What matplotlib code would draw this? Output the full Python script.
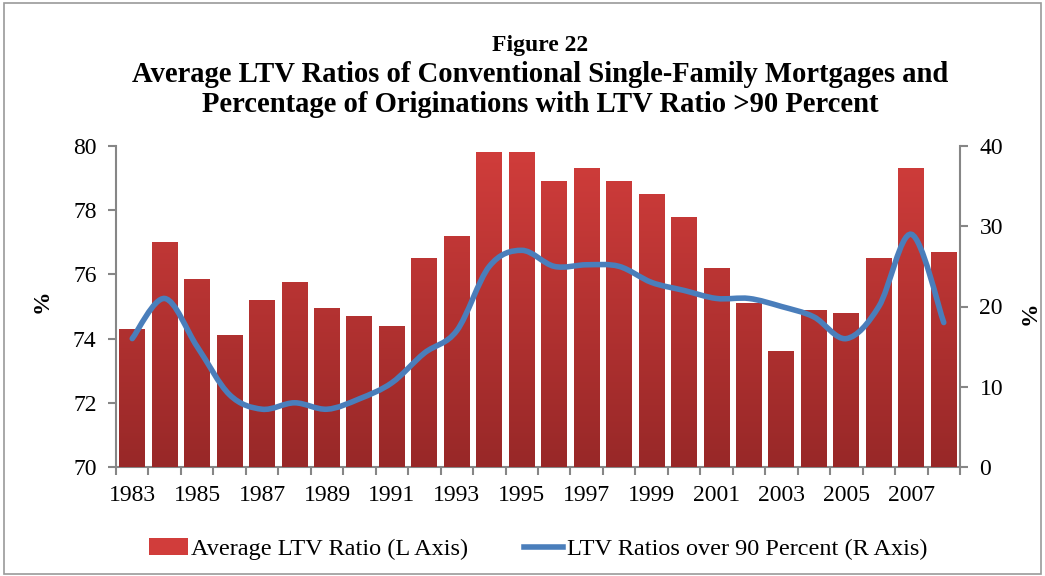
import numpy as np
import matplotlib
matplotlib.use("Agg")
import matplotlib.pyplot as plt
from matplotlib.path import Path
from matplotlib.patches import PathPatch, Rectangle
from matplotlib.colors import LinearSegmentedColormap

plt.rcParams["font.family"] = ["Liberation Serif", "DejaVu Serif"]

# ---- data -------------------------------------------------------------------
years = list(range(1983, 2009))
avg_ltv = [74.3, 77.0, 75.85, 74.1, 75.2, 75.75, 74.95, 74.7, 74.4, 76.5,
           77.2, 79.8, 79.8, 78.9, 79.3, 78.9, 78.5, 77.8, 76.2, 75.1,
           73.6, 74.9, 74.8, 76.5, 79.3, 76.7]
over90 = [16.0, 21.0, 15.0, 9.0, 7.2, 8.0, 7.2, 8.5, 10.5, 14.2,
          17.0, 25.0, 27.0, 25.0, 25.2, 25.0, 23.0, 22.0, 21.0, 21.0,
          20.0, 18.7, 16.0, 20.0, 29.0, 18.0]

BAR_TOP = "#d13d3b"
BAR_BOT = "#982828"
LINE_C = "#4a7ebb"
GRAY = "#868686"

fig = plt.figure(figsize=(10.45, 5.76), dpi=100)
fig.patches.append(Rectangle((0.004, 0.004), 0.992, 0.99, transform=fig.transFigure,
                             fill=False, edgecolor="#9a9a9a", lw=1.2))
ax = fig.add_axes([116 / 1045, 1 - 467 / 576, (960 - 116) / 1045, (467 - 146) / 576])
ax2 = ax.twinx()

x = np.arange(len(years))
bars = ax.bar(x, np.array(avg_ltv) - 70, bottom=70, width=0.8, color=BAR_TOP,
              label="Average LTV Ratio (L Axis)", zorder=2)
# vertical gradient on each bar
cmap = LinearSegmentedColormap.from_list("g", [BAR_BOT, BAR_TOP])
grad = np.linspace(0, 1, 256).reshape(-1, 1)
for b in bars:
    x0 = b.get_x()
    im = ax.imshow(grad, cmap=cmap, origin="lower", aspect="auto",
                   extent=(x0, x0 + b.get_width(), 70, 80), zorder=3)
    im.set_clip_path(b)

ax.set_xlim(-0.5, len(years) - 0.5)
ax.set_ylim(70, 80)
ax.set_yticks([70, 72, 74, 76, 78, 80])
ax2.set_ylim(0, 40)
ax2.set_yticks([0, 10, 20, 30, 40])

# smoothed line (cubic Bezier through the points)
pts = np.column_stack([x, over90]).astype(float)
verts = [tuple(pts[0])]
codes = [Path.MOVETO]
n = len(pts)
for i in range(n - 1):
    p0 = pts[max(i - 1, 0)]
    p1 = pts[i]
    p2 = pts[i + 1]
    p3 = pts[min(i + 2, n - 1)]
    c1 = p1 + (p2 - p0) / 6
    c2 = p2 - (p3 - p1) / 6
    verts += [tuple(c1), tuple(c2), tuple(p2)]
    codes += [Path.CURVE4] * 3
ax2.add_patch(PathPatch(Path(verts, codes), fill=False, edgecolor=LINE_C, lw=4,
                        capstyle="round", zorder=5))
ax2.plot([], [], color=LINE_C, lw=4, label="LTV Ratios over 90 Percent (R Axis)")

for a in (ax, ax2):
    a.spines["top"].set_visible(False)
    for s in a.spines.values():
        s.set_color(GRAY)
        s.set_linewidth(1.5)
    a.tick_params(axis="y", length=6, width=1.5, color=GRAY, labelsize=17, pad=8)
ax.spines["right"].set_visible(False)
ax2.spines["left"].set_visible(False)
ax2.spines["bottom"].set_visible(False)

ax.set_xticks(np.arange(-0.5, len(years), 1.0), minor=True)
ax.set_xticks(x[::2])
ax.set_xticklabels([str(y) for y in years[::2]], fontsize=17)
ax.tick_params(axis="x", which="major", length=0, pad=13)
ax.tick_params(axis="x", which="minor", length=6, width=1.5, color=GRAY)

fig.text(42 / 1045, 1 - 301 / 576, "%", rotation=90, ha="center", va="center",
         fontsize=17, fontweight="bold")
fig.text(1030 / 1045, 1 - 313 / 576, "%", rotation=90, ha="center", va="center",
         fontsize=17, fontweight="bold")

fig.text(0.517, 1 - 45 / 576, "Figure 22", ha="center", va="center",
         fontsize=17, fontweight="bold")
fig.text(0.517, 1 - 75 / 576,
         "Average LTV Ratios of Conventional Single-Family Mortgages and",
         ha="center", va="center", fontsize=20.6, fontweight="bold")
fig.text(0.517, 1 - 105 / 576,
         "Percentage of Originations with LTV Ratio >90 Percent",
         ha="center", va="center", fontsize=20.6, fontweight="bold")

h1, l1 = ax.get_legend_handles_labels()
h2, l2 = ax2.get_legend_handles_labels()
fig.legend(h1 + h2, l1 + l2, loc="center", bbox_to_anchor=(538 / 1045, 1 - 549 / 576),
           ncol=2, frameon=False, fontsize=17.5, handlelength=1.6, handletextpad=0.15,
           columnspacing=2.3)

fig.savefig("out.png", dpi=100)
